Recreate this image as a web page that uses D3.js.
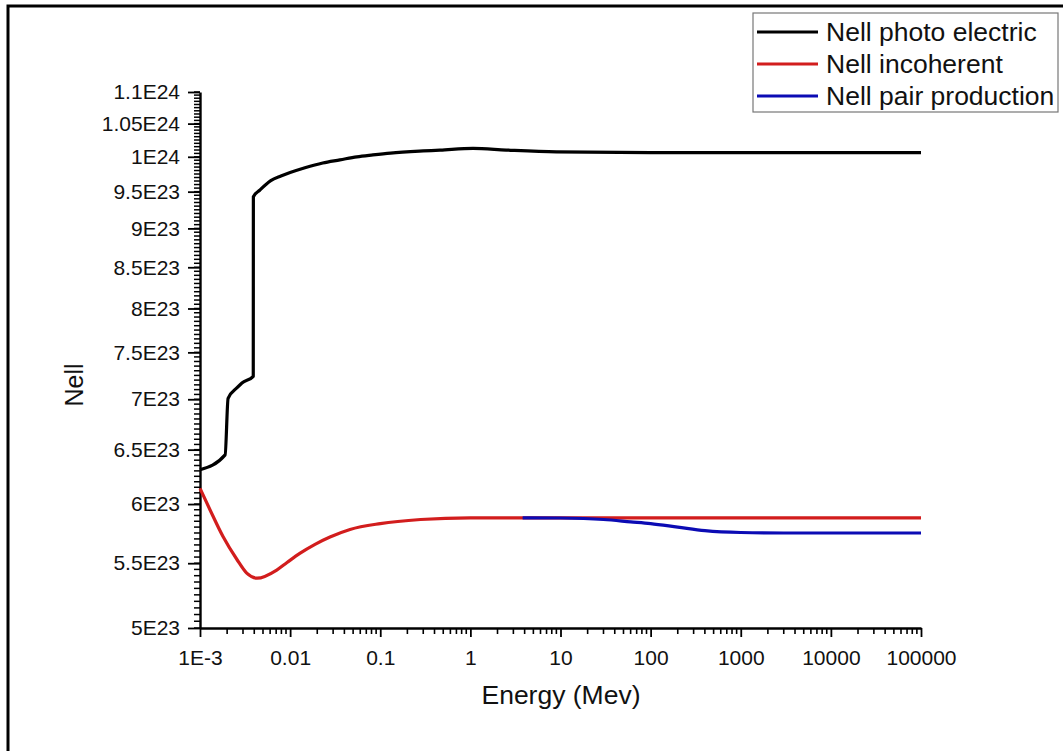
<!DOCTYPE html>
<html>
<head>
<meta charset="utf-8">
<script src="https://cdn.jsdelivr.net/npm/d3@7"></script>
<style>
  html, body { margin: 0; padding: 0; background: #fff; }
  svg { display: block; }
  text { font-family: "Liberation Sans", Arial, sans-serif; fill: #111; }
</style>
</head>
<body>
<svg id="chart" width="1063" height="751"></svg>
<script>
// Energy in MeV, cross-section values (Nell)
const photoElectric = [
  [0.001, 6.31e23], [0.0019, 6.45e23], [0.00205, 7.01e23], [0.00258, 7.12e23],
  [0.00292, 7.17e23], [0.0039, 7.24e23], [0.00391, 9.43e23], [0.0046, 9.52e23],
  [0.0061, 9.655e23], [0.0079, 9.72e23], [0.01, 9.77e23], [0.0146, 9.84e23],
  [0.023, 9.91e23], [0.0357, 9.955e23], [0.055, 1.0e24], [0.083, 1.0028e24],
  [0.13, 1.0055e24], [0.3, 1.0086e24], [0.46, 1.0098e24], [1.07, 1.0125e24],
  [2.5, 1.0100e24], [9, 1.0072e24], [100, 1.0062e24], [100000, 1.0062e24]
];
const incoherent = [
  [0.001, 6.14e23], [0.00129, 5.95e23], [0.0018, 5.72e23], [0.00257, 5.53e23],
  [0.0033, 5.42e23], [0.0043, 5.38e23], [0.0071, 5.445e23], [0.00924, 5.506e23],
  [0.0128, 5.58e23], [0.0189, 5.655e23], [0.0277, 5.716e23], [0.0462, 5.78e23],
  [0.1, 5.83e23], [0.28, 5.865e23], [1, 5.88e23], [100000, 5.88e23]
];
const pairProduction = [
  [3.8, 5.88e23], [10, 5.878e23], [30, 5.865e23], [60, 5.845e23], [100, 5.83e23],
  [200, 5.80e23], [400, 5.77e23], [1000, 5.754e23], [3000, 5.75e23], [100000, 5.75e23]
];

const seriesNames = ["Nell photo electric", "Nell incoherent", "Nell pair production"];
const seriesColors = ["#000000", "#d21d1d", "#0b0bb4"];

const xTickValues = [1e-3, 1e-2, 1e-1, 1, 10, 100, 1000, 10000, 100000];
const xTickLabels = ["1E-3", "0.01", "0.1", "1", "10", "100", "1000", "10000", "100000"];
const yTickValues = [5e23, 5.5e23, 6e23, 6.5e23, 7e23, 7.5e23, 8e23, 8.5e23, 9e23, 9.5e23, 1e24, 1.05e24, 1.1e24];
const yTickLabels = ["5E23", "5.5E23", "6E23", "6.5E23", "7E23", "7.5E23", "8E23", "8.5E23", "9E23", "9.5E23", "1E24", "1.05E24", "1.1E24"];

const svg = d3.select("#chart");

// page frame
svg.append("path")
  .attr("d", "M8,760 L8,6 L1070,6")
  .attr("fill", "none").attr("stroke", "#000").attr("stroke-width", 3);

const x = d3.scaleLog().domain([1e-3, 1e5]).range([200, 921]);
const y = d3.scaleLog().domain([5e23, 1.1e24]).range([628, 92]);

// minor tick values
const xMinor = [];
for (let d = -3; d < 5; d++) for (let m = 2; m <= 9; m++) xMinor.push(m * Math.pow(10, d));
const yMinor = d3.range(0, 121).map(i => 5e23 + i * 5e21);

// minor ticks
svg.append("g").selectAll("line").data(xMinor).join("line")
  .attr("x1", d => x(d)).attr("x2", d => x(d)).attr("y1", 628).attr("y2", 634)
  .attr("stroke", "#000").attr("stroke-width", 1.6);
svg.append("g").selectAll("line").data(yMinor).join("line")
  .attr("y1", d => y(d)).attr("y2", d => y(d)).attr("x1", 200).attr("x2", 194)
  .attr("stroke", "#000").attr("stroke-width", 1.5);

const axisStyle = g => {
  g.selectAll("path.domain").attr("stroke", "#000").attr("stroke-width", 2.4);
  g.selectAll(".tick line").attr("stroke", "#000").attr("stroke-width", 1.8);
};

// X axis
svg.append("g").attr("transform", "translate(0,628)")
  .call(d3.axisBottom(x).tickValues(xTickValues).tickSize(9).tickSizeOuter(0)
    .tickFormat((d, i) => xTickLabels[i]))
  .call(axisStyle)
  .call(g => g.selectAll("text").attr("font-size", 21).attr("dy", "1.2em")
    .attr("font-family", "Liberation Sans, Arial, sans-serif").attr("fill", "#111"));

// Y axis
svg.append("g").attr("transform", "translate(200,0)")
  .call(d3.axisLeft(y).tickValues(yTickValues).tickSize(12).tickSizeOuter(0)
    .tickFormat((d, i) => yTickLabels[i]))
  .call(axisStyle)
  .call(g => g.selectAll("text").attr("font-size", 21).attr("x", -20)
    .attr("font-family", "Liberation Sans, Arial, sans-serif").attr("fill", "#111"));

// axis titles
svg.append("text").attr("x", 561).attr("y", 704).attr("text-anchor", "middle")
  .attr("font-size", 26.5).text("Energy (Mev)");
svg.append("text").attr("transform", "translate(83,385) rotate(-90)")
  .attr("text-anchor", "middle").attr("font-size", 25).text("Nell");

// series lines
const lineSmooth = d3.line().x(d => x(d[0])).y(d => y(d[1])).curve(d3.curveMonotoneX);

const plot = svg.append("g");
plot.append("path").datum(photoElectric).attr("d", lineSmooth)
  .attr("fill", "none").attr("stroke", seriesColors[0]).attr("stroke-width", 3.2)
  .attr("stroke-linejoin", "round");
plot.append("path").datum(incoherent).attr("d", lineSmooth)
  .attr("fill", "none").attr("stroke", seriesColors[1]).attr("stroke-width", 3.2);
plot.append("path").datum(pairProduction).attr("d", lineSmooth)
  .attr("fill", "none").attr("stroke", seriesColors[2]).attr("stroke-width", 3.2);

// legend
const legend = svg.append("g");
legend.append("rect").attr("x", 753).attr("y", 13).attr("width", 305).attr("height", 99)
  .attr("fill", "#fff").attr("stroke", "#777").attr("stroke-width", 1.2);
seriesNames.forEach((name, i) => {
  const cy = 32 + i * 32;
  legend.append("line").attr("x1", 757).attr("x2", 818).attr("y1", cy).attr("y2", cy)
    .attr("stroke", seriesColors[i]).attr("stroke-width", 3.2);
  legend.append("text").attr("x", 826).attr("y", cy + 9).attr("font-size", 26.5).text(name);
});
</script>
</body>
</html>
